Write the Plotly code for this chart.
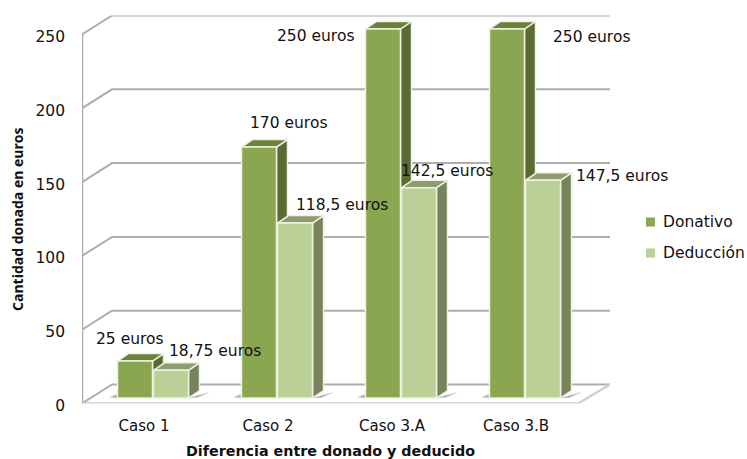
import plotly.graph_objects as go

categories = ["Caso 1", "Caso 2", "Caso 3.A", "Caso 3.B"]
donativo = [25, 170, 250, 250]
deduccion = [18.75, 118.5, 142.5, 147.5]
donativo_labels = ["25 euros", "170 euros", "250 euros", "250 euros"]
deduccion_labels = ["18,75 euros", "118,5 euros", "142,5 euros", "147,5 euros"]
y_ticks = [0, 50, 100, 150, 200, 250]

W, H = 747, 459
X0, Y0 = 82, 403.5          # front-left floor corner (pixels)
PITCH = 124                 # pixels per category
PXU = 369 / 250             # pixels per euro
WALL_DX, WALL_DY = 30, 19   # depth of the chart box
BACK_R = 610                # right end of the back wall
TOP = 15.5
BAR_W = 35
GAP = 1
BAR_DX, BAR_DY = 9, 5.5     # bars stand a bit inside the floor
DEP_DX, DEP_DY = 11, 7.5    # depth of each bar

def ux(px): return px / PITCH
def uy(px): return px / PXU

FONT = "DejaVu Sans"
GRID = "#adadad"
EDGE = "#eef2e3"
SIZE = 15.5

fig = go.Figure()

def line(xs, ys, color=GRID, width=2):
    fig.add_trace(go.Scatter(x=xs, y=ys, mode="lines", line=dict(color=color, width=width),
                             hoverinfo="skip", showlegend=False, cliponaxis=False))

def poly(xs, ys, fill, edge=EDGE, width=1.5):
    fig.add_trace(go.Scatter(x=xs + xs[:1], y=ys + ys[:1], mode="lines", fill="toself", fillcolor=fill,
                             line=dict(color=edge, width=width), hoverinfo="skip", showlegend=False,
                             cliponaxis=False))

dx, dy = ux(WALL_DX), uy(WALL_DY)
xmax = ux(BACK_R - X0)
front_r = ux(578 - X0)

# walls and gridlines
for v in y_ticks:
    line([0, dx, xmax], [v, v + dy, v + dy])
    line([-ux(2), 0], [v, v], width=1.5)
line([0, 0], [0, y_ticks[-1]], width=2.5)
line([0, front_r, xmax], [0, 0, dy], color="#d0d0d0", width=2.5)

# shadows on the floor
for i in range(len(categories)):
    left = i + ux(BAR_DX) + 0.5 - ux(BAR_W + GAP / 2)
    right = i + ux(BAR_DX) + 0.5 + ux(BAR_W + GAP / 2)
    base = uy(BAR_DY)
    poly([right, right + ux(20), right + ux(9)], [base, base + uy(5.5), base + uy(0.5)], "#a8a8a8", "#d0d0d0", 0.5)
    poly([left, left - ux(8), left - ux(1)], [base, base + uy(0.5), base + uy(4)], "#b8b8b8", "#dcdcdc", 0.5)

def bar(i, val, side):
    c = i + 0.5 + ux(BAR_DX)
    if side == 0:
        l, r = c - ux(BAR_W + GAP / 2), c - ux(GAP / 2)
        front, top, sidec = "#8aa650", "#6b8239", "#5a6a31"
    else:
        l, r = c + ux(GAP / 2), c + ux(BAR_W + GAP / 2)
        front, top, sidec = "#bbd096", "#8f9d6e", "#77835b"
    b = uy(BAR_DY)
    t = val + b
    ddx, ddy = ux(DEP_DX), uy(DEP_DY)
    poly([r, r + ddx, r + ddx, r], [b, b + ddy, t + ddy, t], sidec)
    poly([l, r, r + ddx, l + ddx], [t, t, t + ddy, t + ddy], top)
    poly([l, r, r, l], [b, b, t, t], front)

for i in range(len(categories)):
    bar(i, donativo[i], 0)
    bar(i, deduccion[i], 1)

# value labels, placed relative to their bars (pixel offsets)
don_off = [(-6, 22), (29, 24), (-68, -7), (84, -8)]
ded_off = [(44, 19), (47, 18), (28, 17), (79, 4)]
annots = []
for i in range(len(categories)):
    c = i + 0.5 + ux(BAR_DX)
    annots.append(dict(x=c - ux(BAR_W / 2), y=donativo[i] + uy(BAR_DY), text=donativo_labels[i],
                       xshift=don_off[i][0], yshift=don_off[i][1], showarrow=False,
                       xanchor="center", yanchor="middle",
                       font=dict(family=FONT, size=SIZE, color="#111")))
    annots.append(dict(x=c + ux(BAR_W / 2), y=deduccion[i] + uy(BAR_DY), text=deduccion_labels[i],
                       xshift=ded_off[i][0], yshift=ded_off[i][1], showarrow=False,
                       xanchor="center", yanchor="middle",
                       font=dict(family=FONT, size=SIZE, color="#111")))

# legend
shapes = []
for name, color, py in [("Donativo", "#8aa650", 222), ("Deducción", "#bbd096", 253)]:
    shapes.append(dict(type="rect", xref="paper", yref="paper",
                       x0=646 / W, x1=655 / W, y0=1 - (py + 4.5) / H, y1=1 - (py - 4.5) / H,
                       fillcolor=color, line=dict(width=0)))
    annots.append(dict(xref="paper", yref="paper", x=661 / W, y=1 - py / H, text=name, showarrow=False,
                       xanchor="left", yanchor="middle", font=dict(family=FONT, size=SIZE, color="#111")))
annots.append(dict(xref="paper", yref="paper", x=17 / W, y=1 - 220 / H, text="<b>Cantidad donada en euros</b>",
                   textangle=-90, showarrow=False, xanchor="center", yanchor="middle",
                   font=dict(family="Open Sans", size=14, color="#111")))
annots.append(dict(xref="paper", yref="paper", x=330 / W, y=1 - 451 / H, text="<b>Diferencia entre donado y deducido</b>",
                   showarrow=False, xanchor="center", yanchor="middle",
                   font=dict(family=FONT, size=14.3, color="#111")))

fig.update_layout(
    width=W, height=H, margin=dict(l=0, r=0, t=0, b=0, autoexpand=False), autosize=False,
    paper_bgcolor="white", plot_bgcolor="white", showlegend=False,
    annotations=annots, shapes=shapes,
    xaxis=dict(domain=[X0 / W, BACK_R / W], range=[0, xmax], showgrid=False, zeroline=False, showline=False,
               tickmode="array", tickvals=[i + 0.5 for i in range(4)], ticktext=categories, ticks="",
               tickfont=dict(family=FONT, size=SIZE - 0.5, color="#111"), ticklabelstandoff=11, automargin=False),
    yaxis=dict(domain=[1 - Y0 / H, 1 - TOP / H], range=[0, (Y0 - TOP) / PXU], showgrid=False, zeroline=False,
               showline=False, tickmode="array", tickvals=y_ticks, ticks="",
               tickfont=dict(family=FONT, size=SIZE, color="#111"), ticklabelstandoff=16, ticklabelshift=2,
               automargin=False),
)
fig.write_html("out.html", config=dict(displayModeBar=False),
               post_script="document.documentElement.style.margin='0';document.body.style.margin='0';document.body.style.overflow='hidden';")
